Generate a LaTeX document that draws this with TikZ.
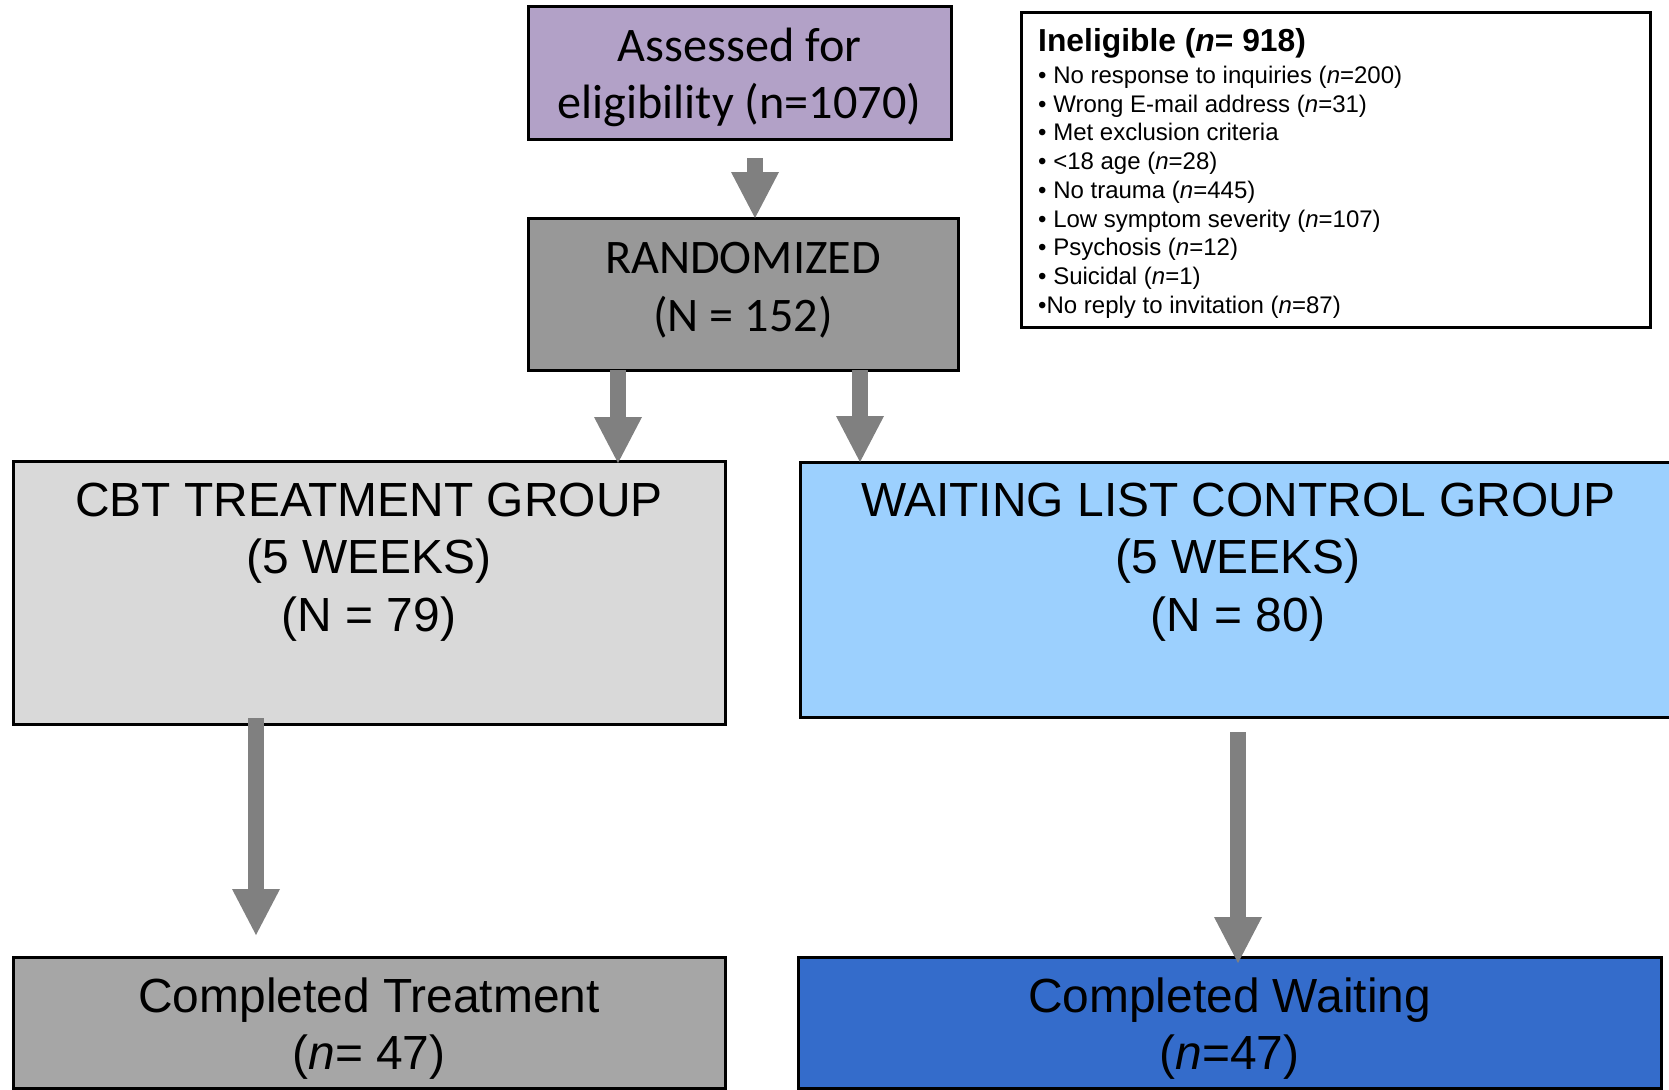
\documentclass[tikz,border=0pt]{standalone}
\usepackage{fontspec}
\setmainfont{Liberation Sans}
\newfontfamily\calfont{Carlito}
\usetikzlibrary{arrows.meta}

\definecolor{assesscol}{HTML}{B2A1C7}
\definecolor{randcol}{HTML}{989898}
\definecolor{cbtcol}{HTML}{D9D9D9}
\definecolor{wlcol}{HTML}{9CD0FE}
\definecolor{ctcol}{HTML}{A6A6A6}
\definecolor{cwcol}{HTML}{346CCB}
\definecolor{arrowgray}{HTML}{808080}

\begin{document}
\begin{tikzpicture}[x=1pt,y=-1pt,
  box/.style={rectangle,draw=black,line width=3pt,inner sep=0pt,outer sep=0pt},
  bigarrow/.style={draw=arrowgray,line width=16pt,
    -{Triangle[width=48pt,length=46pt,line width=0pt]}},
  calibri/.style={inner sep=0pt,align=center,anchor=north,
    font=\calfont\fontsize{48.2}{57.5}\selectfont},
  arial/.style={inner sep=0pt,align=center,anchor=north,
    font=\fontsize{47.9}{57.5}\selectfont},
  ]
\useasboundingbox (0,0) rectangle (1669,1089);

% boxes
\node[box,fill=assesscol,minimum width=423pt,minimum height=132pt] (assess) at (739.5,73) {};
\node[box,fill=randcol,minimum width=430pt,minimum height=152pt] (rand) at (743,294) {};
\node[box,fill=white,minimum width=629pt,minimum height=314pt] (inel) at (1335.5,170) {};
\node[box,fill=cbtcol,minimum width=712pt,minimum height=263pt] (cbt) at (369,592.5) {};
\node[box,fill=wlcol,minimum width=876pt,minimum height=255pt] (wl) at (1238,589.5) {};
\node[box,fill=ctcol,minimum width=712pt,minimum height=131pt] (ct) at (369,1022.5) {};
\node[box,fill=cwcol,minimum width=863pt,minimum height=131pt] (cw) at (1229.5,1022.5) {};

% box texts
\node[calibri] (assesstxt) at (739.5,27.5) {Assessed for\\eligibility (n=1070)};
\node[calibri] (randtxt) at (743,242.5) {RANDOMIZED\\(N = 152)};
\node[arial] (cbttxt) at (369,482.5) {CBT TREATMENT GROUP\\(5 WEEKS)\\(N = 79)};
\node[arial] (wltxt) at (1238,482.5) {WAITING LIST CONTROL GROUP\\(5 WEEKS)\\(N = 80)};
\node[arial] (cttxt) at (369,977.5) {Completed Treatment\\(\textit{n}= 47)};
\node[arial] (cwtxt) at (1229.5,977.5) {Completed Waiting\\(\textit{n}=47)};

\node[inner sep=0pt,anchor=north west,align=left,
  font=\fontsize{24}{28.74}\selectfont] (ineltxt) at (1038,28.5)
  {{\fontsize{31.8}{34}\selectfont\bfseries Ineligible (\textit{n}= 918)}\\[3pt]
   • No response to inquiries (\textit{n}=200)\\
   • Wrong E-mail address (\textit{n}=31)\\
   • Met exclusion criteria\\
   • <18 age (\textit{n}=28)\\
   • No trauma (\textit{n}=445)\\
   • Low symptom severity (\textit{n}=107)\\
   • Psychosis (\textit{n}=12)\\
   • Suicidal (\textit{n}=1)\\
   •No reply to invitation (\textit{n}=87)};

% connectors
\draw[bigarrow] ([xshift=15.5pt,yshift=-19pt]assess.south) -- ([xshift=12pt]rand.north);
\draw[bigarrow] ([xshift=-125pt]rand.south) -- ([xshift=249pt,yshift=-2pt]cbt.north);
\draw[bigarrow] ([xshift=117pt]rand.south) -- ([xshift=-378pt]wl.north);
\draw[bigarrow] ([xshift=-113pt,yshift=6pt]cbt.south) -- ([xshift=-113pt,yshift=22pt]ct.north);
\draw[bigarrow] ([yshift=-15pt]wl.south) -- ([xshift=8.5pt,yshift=-6pt]cw.north);
\end{tikzpicture}
\end{document}
